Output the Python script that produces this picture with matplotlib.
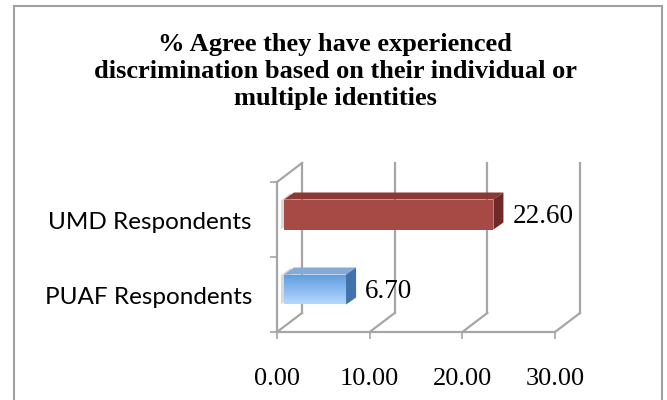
import numpy as np
import matplotlib
matplotlib.use("Agg")
import matplotlib.pyplot as plt
import matplotlib.patches as pt
from matplotlib.transforms import offset_copy

# data
categorias = ["PUAF Respondents", "UMD Respondents"]
valores = [6.70, 22.60]
xticks = [0, 10, 20, 30]
titulo = ["% Agree they have experienced",
          "discrimination based on their individual or",
          "multiple identities"]

W, H = 667, 400
fig = plt.figure(figsize=(W / 100, H / 100), dpi=100)

# front plane of the axes in pixels
AX_L, AX_R, AX_T, AX_B = 277, 555, 182, 332
ax = fig.add_axes([AX_L / W, 1 - AX_B / H, (AX_R - AX_L) / W, (AX_B - AX_T) / H])
ax.set_xlim(0, 30)
ax.set_ylim(-0.5, 1.5)
ax.patch.set_visible(False)

sx = 30 / (AX_R - AX_L)   # data units per pixel
sy = 2 / (AX_B - AX_T)
gris = "#a6a6a6"

# back plane offset, bar offset and bar depth (pixels)
bx, by = 25 * sx, 19 * sy
ox, oy = 7 * sx, 5 * sy
dx, dy = 10 * sx, 7 * sy

for x in xticks:
    ax.plot([x + bx, x + bx], [-0.5 + by, 1.5 + by], color=gris, lw=1.6, clip_on=False)
    ax.plot([x, x + bx], [-0.5, -0.5 + by], color=gris, lw=1.6, clip_on=False)
ax.plot([0, bx], [1.5, 1.5 + by], color=gris, lw=1.6, clip_on=False)

for s in ["top", "right"]:
    ax.spines[s].set_visible(False)
for s in ["left", "bottom"]:
    ax.spines[s].set_color(gris)
    ax.spines[s].set_linewidth(1.6)

ax.set_xticks(xticks, ["%.2f" % v for v in xticks])
ax.tick_params(axis="x", length=5, width=1.2, color=gris, pad=21,
               labelsize=19, labelfontfamily="Liberation Serif")
ax.set_yticks([-0.5, 0.5, 1.5], ["", "", ""])
ax.tick_params(axis="y", length=5, width=1.2, color=gris)

frente = {"UMD Respondents": "#a54a45", "PUAF Respondents": None}
arriba = {"UMD Respondents": "#8a3935", "PUAF Respondents": "#85aad8"}
lado = {"UMD Respondents": "#6e2a28", "PUAF Respondents": "#4272ab"}
h = 0.4

for i, (cat, v) in enumerate(zip(categorias, valores)):
    y0 = i - h / 2 + oy
    y1 = i + h / 2 + oy
    x0 = ox
    x1 = v + ox
    # faint shadow on the left wall
    ax.add_patch(pt.Polygon([(x0 - 3 * sx, y1 - 1 * sy), (x0 - 3 * sx + dx, y1 + dy),
                             (x0 - 3 * sx + dx, y0 + dy), (x0 - 3 * sx, y0)],
                            closed=True, color="#d9d9d9", lw=0, clip_on=False, zorder=2))
    if frente[cat] is None:
        rect = pt.Rectangle((x0, y0), v, h, lw=0, facecolor="none", zorder=3)
        ax.add_patch(rect)
        grad = np.linspace(0, 1, 50).reshape(-1, 1)
        cmap = matplotlib.colors.LinearSegmentedColormap.from_list("azul", ["#b5d7fc", "#5d9ce0"])
        im = ax.imshow(grad, extent=[x0, x1, y1, y0], aspect="auto", cmap=cmap,
                       zorder=3, interpolation="bilinear")
        im.set_clip_path(rect)
    else:
        ax.barh(i + oy, v, height=h, left=x0, color=frente[cat], lw=0, zorder=3)
    ax.add_patch(pt.Polygon([(x0, y1), (x0 + dx, y1 + dy), (x1 + dx, y1 + dy), (x1, y1)],
                            closed=True, color=arriba[cat], lw=0, zorder=3, clip_on=False))
    ax.add_patch(pt.Polygon([(x1, y1), (x1 + dx, y1 + dy), (x1 + dx, y0 + dy), (x1, y0)],
                            closed=True, color=lado[cat], lw=0, zorder=3, clip_on=False))
    ax.annotate("%.2f" % v, xy=(v, i), xytext=(26, 3), textcoords="offset pixels",
                ha="left", va="center", fontsize=19.5, family="Liberation Serif",
                annotation_clip=False)
    ax.text(0, i, cat, transform=offset_copy(ax.transData, fig=fig, x=-25, y=-3, units="dots"),
            ha="right", va="center", fontsize=17.5, family="Lato")

ax.set_xlim(0, 30)
ax.set_ylim(-0.5, 1.5)

# title
for yy, linea in zip([44, 72, 99], titulo):
    fig.text(335 / W, 1 - yy / H, linea, ha="center", va="center", fontsize=19,
             fontweight="bold", family="Liberation Serif")

# border
fig.patches.append(pt.Rectangle((14 / W, -0.02), 648 / W, 1 - 6 / H + 0.02,
                                transform=fig.transFigure, fill=False,
                                edgecolor="#a0a0a0", lw=1.5))

fig.savefig("out.png", dpi=100)
